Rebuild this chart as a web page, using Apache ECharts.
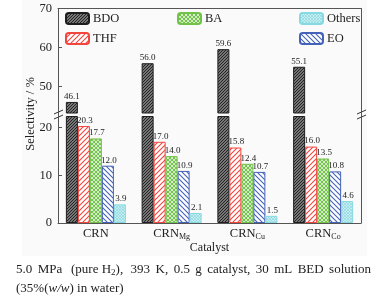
<!DOCTYPE html>
<html>
<head>
<meta charset="utf-8">
<script src="https://cdn.jsdelivr.net/npm/echarts@6/dist/echarts.min.js"></script>
<style>
  html, body { margin: 0; padding: 0; background: #fff; }
  #main { width: 387px; height: 302px; }
</style>
</head>
<body>
<div id="main"></div>
<script>
  // data
  const catBase = ['CRN', 'CRN', 'CRN', 'CRN'];
  const catSub = ['', 'Mg', 'Cu', 'Co'];
  const bdo = [46.1, 56.0, 59.6, 55.1];
  const thf = [20.3, 17.0, 15.8, 16.0];
  const ba = [17.7, 14.0, 12.4, 13.5];
  const eo = [12.0, 10.9, 10.7, 10.8];
  const others = [3.9, 2.1, 1.5, 4.6];
  const lowTicks = [0, 10, 20];
  const highTicks = [50, 60, 70];

  const serif = '"Liberation Serif", "DejaVu Serif", serif';

  // small canvas tiles for hatched fills
  function pattern(bg, fg, size, dirs, lw) {
    const c = document.createElement('canvas');
    c.width = size; c.height = size;
    const g = c.getContext('2d');
    g.fillStyle = bg;
    g.fillRect(0, 0, size, size);
    g.strokeStyle = fg;
    g.lineWidth = lw;
    dirs.forEach(d => {
      g.beginPath();
      for (let k = -1; k <= 1; k++) {
        if (d === '/') {
          g.moveTo(k * size - 1, size + 1);
          g.lineTo(k * size + size + 1, -1);
        } else {
          g.moveTo(k * size - 1, -1);
          g.lineTo(k * size + size + 1, size + 1);
        }
      }
      g.stroke();
    });
    return { image: c, repeat: 'repeat' };
  }

  const styles = {
    BDO: { fill: pattern('#9a9a9a', '#1e1e1e', 3, ['/'], 1.1), border: '#1e1e1e' },
    THF: { fill: pattern('#ffffff', '#f2453d', 5, ['/'], 1.1), border: '#f2453d' },
    BA: { fill: pattern('#ffffff', '#72c24a', 4, ['/', '\\'], 1.2), border: '#72c24a' },
    EO: { fill: pattern('#ffffff', '#4462b8', 5, ['\\'], 1.1), border: '#4462b8' },
    Others: { fill: pattern('#c4eef2', '#86d4dc', 3, ['/', '\\'], 0.6), border: '#86d9e1' }
  };

  const names = ['BDO', 'THF', 'BA', 'EO', 'Others'];
  const values = [bdo, thf, ba, eo, others];

  function makeSeries(name, data, axisIdx, showLabel, z) {
    return {
      name: name,
      type: 'bar',
      xAxisIndex: axisIdx,
      yAxisIndex: axisIdx * 2,
      barWidth: 12,
      barGap: '0%',
      z: z,
      data: data,
      itemStyle: {
        color: styles[name].fill,
        borderColor: styles[name].border,
        borderWidth: 1
      },
      label: {
        show: showLabel,
        position: 'top',
        distance: 1,
        offset: [name === 'BDO' ? 0 : 1, 0],
        color: '#222',
        fontFamily: serif,
        fontSize: 9,
        formatter: p => Number(p.value).toFixed(1)
      },
      emphasis: { disabled: true },
      animation: false
    };
  }

  const series = [];
  // lower segment (0 - 22)
  names.forEach((n, i) => series.push(makeSeries(n, values[i], 0, n !== 'BDO', 2 + i)));
  // upper segment, only BDO reaches it
  names.forEach((n, i) => series.push(makeSeries(n, n === 'BDO' ? bdo : bdo.map(() => '-'), 1, n === 'BDO', 2)));

  const axisLine = { show: true, onZero: false, lineStyle: { color: '#555', width: 1 } };
  const tickLabel = { color: '#222', fontFamily: serif, fontSize: 12.5, margin: 6 };

  // caption line 1, spread over the full width like justified text
  const capFont = '13px "Liberation Serif"';
  const capWords = ['5.0', 'MPa', '(pure H2),', '393', 'K,', '0.5', 'g', 'catalyst,', '30', 'mL', 'BED', 'solution'];
  const meas = document.createElement('canvas').getContext('2d');
  meas.font = capFont;
  const capLeft = 16, capRight = 371;
  const widths = capWords.map(w => meas.measureText(w).width);
  const gap = (capRight - capLeft - widths.reduce((a, b) => a + b, 0)) / (capWords.length - 1);
  const capGraphics = [];
  let cx = capLeft;
  capWords.forEach((w, i) => {
    const txt = w === '(pure H2),' ? '{t|(pure H}{s|2}{t|),}' : '{t|' + w + '}';
    capGraphics.push({
      type: 'text', x: cx, y: 270,
      style: {
        text: txt, verticalAlign: 'middle',
        rich: {
          t: { fill: '#222', fontFamily: serif, fontSize: 13 },
          s: { fill: '#222', fontFamily: serif, fontSize: 9, verticalAlign: 'bottom', padding: [5, 0, 0, 0] }
        }
      }
    });
    cx += widths[i] + gap + (i === 1 ? 3 : 0) - (i === 1 ? 0 : 3 / (capWords.length - 2));
  });

  const option = {
    animation: false,
    grid: [
      { left: 58, right: 26, top: 116.5, bottom: 79 },
      { left: 58, right: 26, top: 8.5, bottom: 189 }
    ],
    legend: [
      { data: ['BDO', 'THF'], left: 65, top: 12 },
      { data: ['BA'], left: 177, top: 12 },
      { data: ['Others', 'EO'], left: 299, top: 12 }
    ].map(l => Object.assign(l, {
      orient: 'vertical',
      padding: 0,
      itemWidth: 23,
      itemHeight: 11,
      itemGap: 7,
      selectedMode: false,
      textStyle: { color: '#222', fontFamily: serif, fontSize: 12.5, lineHeight: 11, padding: [0, 0, 0, -1] }
    })),
    xAxis: [
      {
        type: 'category',
        gridIndex: 0,
        data: catBase,
        axisLine: axisLine,
        axisTick: { show: false },
        name: 'Catalyst',
        nameLocation: 'middle',
        nameGap: 19,
        nameTextStyle: { color: '#222', fontFamily: serif, fontSize: 12 },
        axisLabel: {
          interval: 0,
          margin: 3,
          formatter: (v, i) => '{b|' + catBase[i] + '}' + (catSub[i] ? '{s|' + catSub[i] + '}' : ''),
          rich: {
            b: { color: '#222', fontFamily: serif, fontSize: 12.5, lineHeight: 15 },
            s: { color: '#222', fontFamily: serif, fontSize: 8, lineHeight: 15, verticalAlign: 'bottom', padding: [6, 0, 0, 0] }
          }
        }
      },
      {
        type: 'category',
        gridIndex: 1,
        position: 'top',
        data: catBase,
        axisLine: axisLine,
        axisTick: { show: false },
        axisLabel: { show: false }
      }
    ],
    yAxis: [
      {
        type: 'value', gridIndex: 0, min: 0, max: 22.3,
        axisLine: axisLine,
        axisTick: { show: true, inside: true, length: 4, customValues: lowTicks, lineStyle: { color: '#555' } },
        axisLabel: Object.assign({ customValues: lowTicks }, tickLabel),
        splitLine: { show: false }
      },
      {
        type: 'value', gridIndex: 0, position: 'right', min: 0, max: 22.3,
        axisLine: axisLine, axisTick: { show: false }, axisLabel: { show: false }, splitLine: { show: false }
      },
      {
        type: 'value', gridIndex: 1, min: 43.27, max: 70,
        axisLine: axisLine,
        axisTick: { show: true, inside: true, length: 4, customValues: highTicks, lineStyle: { color: '#555' } },
        axisLabel: Object.assign({ customValues: highTicks }, tickLabel),
        splitLine: { show: false }
      },
      {
        type: 'value', gridIndex: 1, position: 'right', min: 43.27, max: 70,
        axisLine: axisLine, axisTick: { show: false }, axisLabel: { show: false }, splitLine: { show: false }
      }
    ],
    series: series,
    graphic: [
      // faint grey backdrop of the figure panel
      { type: 'rect', z: -10, silent: true, shape: { x: 22, y: 0, width: 345, height: 256 }, style: { fill: '#fafafa' } },
      // axis segments through the break
      { type: 'line', shape: { x1: 58.5, y1: 112, x2: 58.5, y2: 117 }, style: { stroke: '#555', lineWidth: 1 } },
      { type: 'line', shape: { x1: 361.5, y1: 112, x2: 361.5, y2: 117 }, style: { stroke: '#555', lineWidth: 1 } },
      // break marks
      { type: 'line', shape: { x1: 54, y1: 114, x2: 63, y2: 110 }, style: { stroke: '#333', lineWidth: 1 } },
      { type: 'line', shape: { x1: 54, y1: 119, x2: 63, y2: 115 }, style: { stroke: '#333', lineWidth: 1 } },
      { type: 'line', shape: { x1: 357, y1: 114, x2: 366, y2: 110 }, style: { stroke: '#333', lineWidth: 1 } },
      { type: 'line', shape: { x1: 357, y1: 119, x2: 366, y2: 115 }, style: { stroke: '#333', lineWidth: 1 } },
      {
        type: 'text', x: 31, y: 114, rotation: Math.PI / 2,
        style: { text: 'Selectivity / %', fill: '#222', font: '12.5px ' + serif, align: 'center', verticalAlign: 'middle' }
      },
      {
        type: 'text', x: 16, y: 289,
        style: {
          text: '{t|(35%(}{i|w/w}{t|) in water)}',
          verticalAlign: 'middle',
          rich: {
            t: { fill: '#222', fontFamily: serif, fontSize: 13 },
            i: { fill: '#222', fontFamily: serif, fontSize: 13, fontStyle: 'italic' }
          }
        }
      }
    ].concat(capGraphics)
  };

  const chart = echarts.init(document.getElementById('main'));
  chart.setOption(option);
</script>
</body>
</html>
